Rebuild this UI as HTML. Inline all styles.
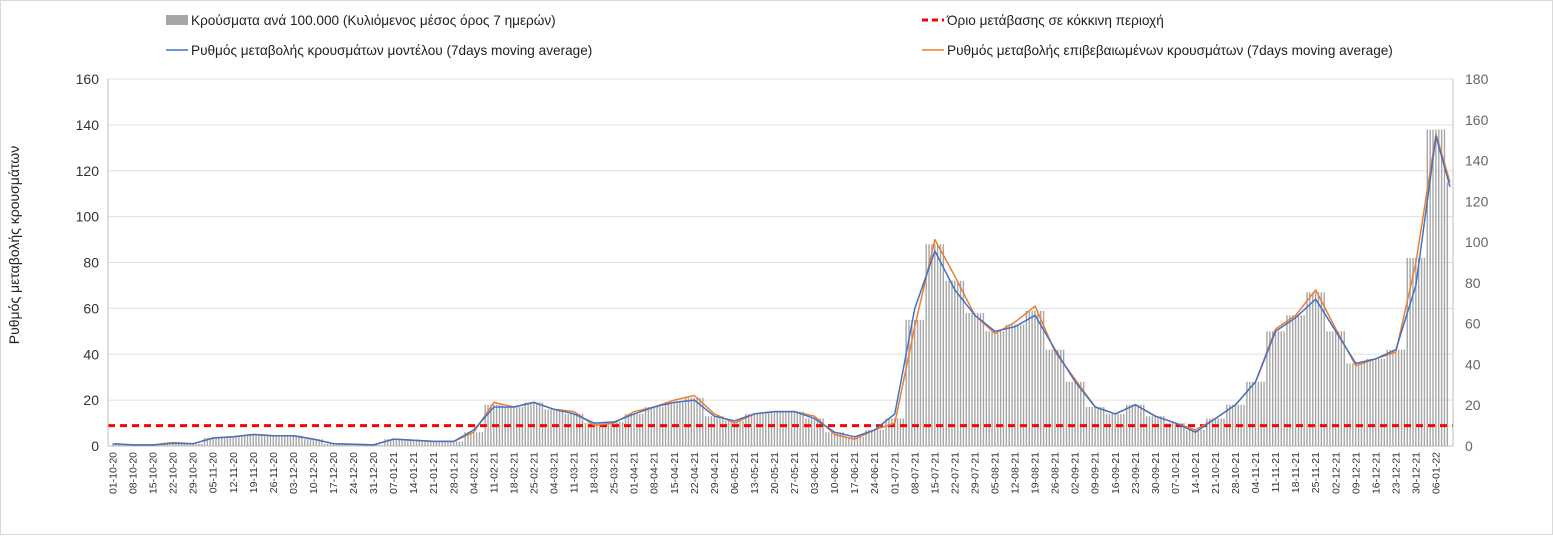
<!DOCTYPE html>
<html><head><meta charset="utf-8">
<style>
body{margin:0;background:#fff;font-family:"Liberation Sans","DejaVu Sans",sans-serif;}
svg text{font-family:"Liberation Sans","DejaVu Sans",sans-serif;}
</style></head>
<body>
<svg id="chart" width="1553" height="535" viewBox="0 0 1553 535" xmlns="http://www.w3.org/2000/svg">
<rect x="0.5" y="0.5" width="1552" height="534" fill="#fff" stroke="#d9d9d9"/>
<g id="grid"></g><g id="bars"></g><g id="lines"></g><g id="axes"></g>
<g>
<rect x="166" y="15" width="22" height="10" fill="#a6a6a6"/>
<text x="191" y="25" font-size="13.6" fill="#222">Κρούσματα ανά 100.000 (Κυλιόμενος μέσος όρος 7 ημερών)</text>
<line x1="166" y1="50" x2="188" y2="50" stroke="#4472c4" stroke-width="1.5"/>
<text x="191" y="55" font-size="13.6" fill="#222">Ρυθμός μεταβολής κρουσμάτων μοντέλου (7days moving average)</text>
<line x1="922" y1="20" x2="944" y2="20" stroke="#ff0000" stroke-width="3" stroke-dasharray="6,4"/>
<text x="947" y="25" font-size="13.6" fill="#222">Όριο μετάβασης σε κόκκινη περιοχή</text>
<line x1="922" y1="50" x2="944" y2="50" stroke="#ed7d31" stroke-width="1.5"/>
<text x="947" y="55" font-size="13.6" fill="#222">Ρυθμός μεταβολής επιβεβαιωμένων κρουσμάτων (7days moving average)</text>
</g>
<text transform="translate(19,245) rotate(-90)" text-anchor="middle" font-size="14" fill="#222">Ρυθμός μεταβολής κρουσμάτων</text>
</svg>
<script>
const dateLabels=["01-10-20","08-10-20","15-10-20","22-10-20","29-10-20","05-11-20","12-11-20","19-11-20","26-11-20","03-12-20","10-12-20","17-12-20","24-12-20","31-12-20","07-01-21","14-01-21","21-01-21","28-01-21","04-02-21","11-02-21","18-02-21","25-02-21","04-03-21","11-03-21","18-03-21","25-03-21","01-04-21","08-04-21","15-04-21","22-04-21","29-04-21","06-05-21","13-05-21","20-05-21","27-05-21","03-06-21","10-06-21","17-06-21","24-06-21","01-07-21","08-07-21","15-07-21","22-07-21","29-07-21","05-08-21","12-08-21","19-08-21","26-08-21","02-09-21","09-09-21","16-09-21","23-09-21","30-09-21","07-10-21","14-10-21","21-10-21","28-10-21","04-11-21","11-11-21","18-11-21","25-11-21","02-12-21","09-12-21","16-12-21","23-12-21","30-12-21","06-01-22"];
const weeklyCases=[1,0.5,0.5,1.5,1,3.5,4,5,4.5,4.5,3,1,0.8,0.5,3,2.5,2,2,6,18,17,19,16,14,10,10.5,14,17,19,21,13,11,14,15,15,12,6,4,7,12,55,88,72,58,50,53,59,42,28,17,14,18,13,10,7,12,18,28,50,57,67,50,36,38,42,82,138,115];
const modelLine=[1,0.5,0.5,1.2,1,3.5,4,5,4.5,4.5,3,1,0.8,0.5,3,2.5,2,2,7,17,17,19,16,14,10,10.5,14,17,19,20,13,11,14,15,15,12,6,4,7,14,60,85,68,57,50,52,57,42,28,17,14,18,13,10,6,12,18,28,50,56,64,50,36,38,42,70,135,113];
const confirmedLine=[1,0.5,0.5,1.5,1,3.5,4,5,4.5,4.5,3,1,0.8,0.5,3,2.5,2,2,6,19,17,19,16,15,9,10,15,17,20,22,14,10,14,15,15,13,5,3,7,10,52,90,74,57,49,54,61,41,29,17,14,18,13,10,7,12,18,28,51,57,68,51,35,38,41,80,136,115];
const leftTicks=[0,20,40,60,80,100,120,140,160];
const rightTicks=[0,20,40,60,80,100,120,140,160,180];
const thresholdRight=[10];

const NS="http://www.w3.org/2000/svg";
const X0=113,PXD=2.8636,Y0=446,YT=79;
function xDay(d){return X0+d*PXD;}
function yL(v){return Y0-v/160*(Y0-YT);}
function yR(v){return Y0-v/180*(Y0-YT);}
function mk(tag,attrs,parent){const e=document.createElementNS(NS,tag);for(const k in attrs)e.setAttribute(k,attrs[k]);parent.appendChild(e);return e;}
const grid=document.getElementById('grid'),bars=document.getElementById('bars'),lines=document.getElementById('lines'),axes=document.getElementById('axes');
leftTicks.forEach(t=>{
  const g=mk('line',{x1:108,x2:1453,y1:yL(t),y2:yL(t),stroke:t===0?'#bfbfbf':'#e0e0e0','stroke-width':1},grid);
  
  
  const tx=mk('text',{x:99,y:yL(t)+5,'text-anchor':'end','font-size':14,fill:'#333'},axes);tx.textContent=t;
  
  
});
rightTicks.forEach(t=>{
  const tx=mk('text',{x:1465,y:yR(t)+5,'font-size':14,fill:'#666'},axes);tx.textContent=t;
  
  
});
const la=mk('line',{x1:108,x2:108,y1:YT,y2:Y0,stroke:'#bfbfbf'},axes);


const ra=mk('line',{x1:1453,x2:1453,y1:YT,y2:Y0,stroke:'#bfbfbf'},axes);


dateLabels.forEach((l,i)=>{
  const x=xDay(i*7);
  const tx=mk('text',{transform:`translate(${x+3.5},452) rotate(-90)`,'text-anchor':'end','font-size':10.5,fill:'#333'},axes);tx.textContent=l;
  
  
});
const nDays=(weeklyCases.length-1)*7;
for(let d=0;d<=Math.min(nDays,466);d++){
  const v=weeklyCases[Math.round(d/7)];
  const b=mk('rect',{x:xDay(d)-0.8,y:yL(v),width:1.4,height:Y0-yL(v),fill:'#a6a6a6'},bars);
  
  
}
function pathFor(arr){return arr.map((v,i)=>(i?'L':'M')+Math.min(xDay(i*7),1450).toFixed(1)+','+yL(v).toFixed(1)).join(' ');}
const th=mk('line',{x1:108,x2:1453,y1:yR(thresholdRight[0]),y2:yR(thresholdRight[0]),stroke:'#ff0000','stroke-width':3,'stroke-dasharray':'7,5'},lines);


const ol=mk('path',{d:pathFor(confirmedLine),fill:'none',stroke:'#ed7d31','stroke-width':1.5,'stroke-linejoin':'round'},lines);


const bl=mk('path',{d:pathFor(modelLine),fill:'none',stroke:'#4472c4','stroke-width':1.5,'stroke-linejoin':'round'},lines);


</script>
</body></html>
